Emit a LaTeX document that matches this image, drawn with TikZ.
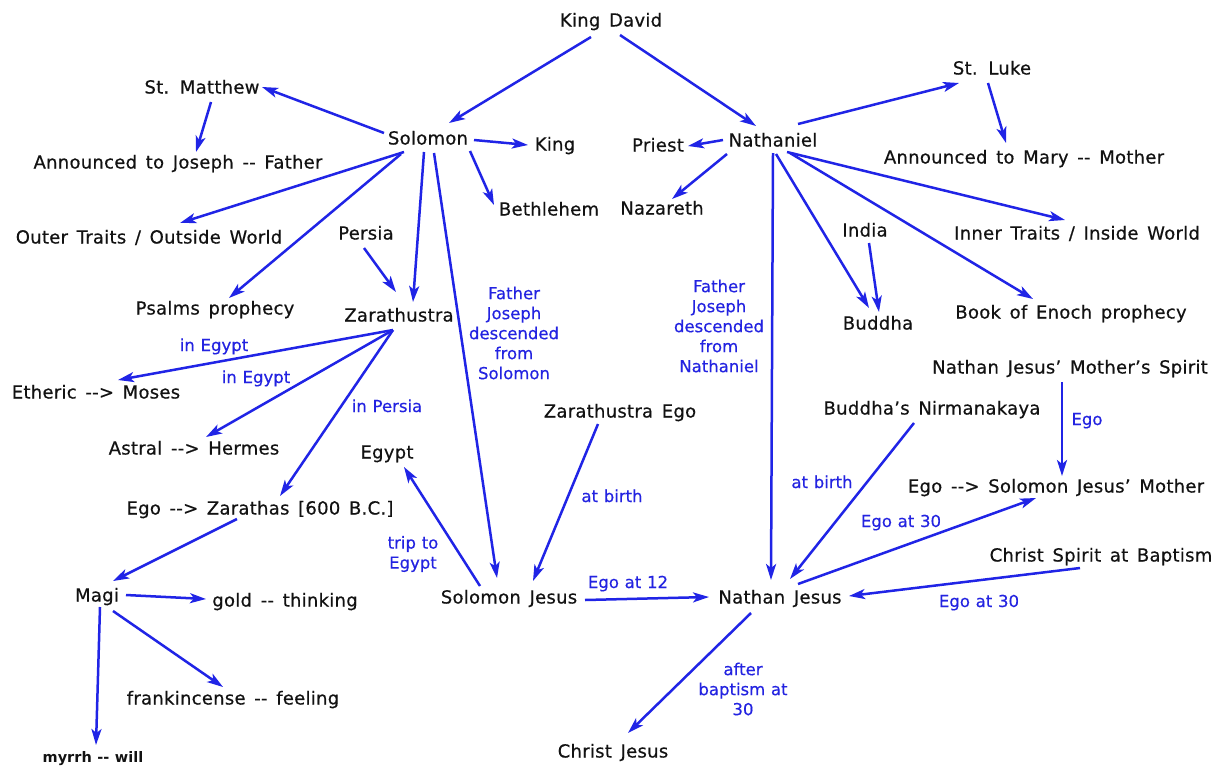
\documentclass[tikz,border=0pt]{standalone}
\usepackage{fontspec}
\newfontfamily\vf{DejaVu Sans}[WordSpace=1.45, LetterSpace=1.5, FakeBold=0.5]
\newfontfamily\vfl{DejaVu Sans}[WordSpace=1.1, FakeBold=0.4]
\newfontfamily\vfb{DejaVu Sans Bold}[WordSpace=1.1]
\usetikzlibrary{arrows.meta}
\definecolor{eb}{RGB}{32,36,230}
\definecolor{lb}{RGB}{35,35,225}
\definecolor{tx}{RGB}{18,18,18}
\tikzset{
  txt/.style={font=\vf\fontsize{18}{20}\selectfont, text=tx, inner sep=0pt, text height=13pt, text depth=0pt},
  lbl/.style={font=\vfl\fontsize{16.5}{20}\selectfont, text=lb, inner sep=0pt, text height=12pt, text depth=0pt},
  mlbl/.style={font=\vfl\fontsize{16.5}{20}\selectfont, text=lb, inner sep=0pt, align=center},
  arr/.style={draw=eb, line width=2.5pt, -{Stealth[length=16pt,width=10pt,inset=4pt]}},
}
\begin{document}
\begin{tikzpicture}[x=1pt,y=-1pt]
\useasboundingbox (0,0) rectangle (1225,766);
\fill[white] (0,0) rectangle (1225,766);
% nodes
\node[txt] (kd) at (611,20) {King David};
\node[txt] (sol) at (428,138) {Solomon};
\node[txt] (nath) at (773,140) {Nathaniel};
\node[txt] (stm) at (202,87) {St. Matthew};
\node[txt] (luke) at (992,68) {St. Luke};
\node[txt] (king) at (555,144) {King};
\node[txt] (priest) at (658,145) {Priest};
\node[txt] (beth) at (549,209) {Bethlehem};
\node[txt] (naz) at (662,208) {Nazareth};
\node[txt] (aj) at (178,162) {Announced to Joseph -- Father};
\node[txt] (am) at (1024,157) {Announced to Mary -- Mother};
\node[txt] (outer) at (149,237) {Outer Traits / Outside World};
\node[txt] (persia) at (366,233) {Persia};
\node[txt] (zara) at (399,315) {Zarathustra};
\node[txt] (psalms) at (215,308) {Psalms prophecy};
\node[txt] (india) at (865,230) {India};
\node[txt] (buddha) at (878,323) {Buddha};
\node[txt] (inner) at (1077,233) {Inner Traits / Inside World};
\node[txt] (enoch) at (1071,312) {Book of Enoch prophecy};
\node[txt] (moses) at (96,392) {Etheric --> Moses};
\node[txt] (hermes) at (194,448) {Astral --> Hermes};
\node[txt] (egypt) at (387,452) {Egypt};
\node[txt] (ez) at (260,508) {Ego --> Zarathas [600 B.C.]};
\node[txt] (ze) at (620,411) {Zarathustra Ego};
\node[txt] (bn) at (932,408) {Buddha’s Nirmanakaya};
\node[txt] (njms) at (1070,367) {Nathan Jesus’ Mother’s Spirit};
\node[txt] (esm) at (1056,486) {Ego --> Solomon Jesus’ Mother};
\node[txt] (csb) at (1101,555) {Christ Spirit at Baptism};
\node[txt] (magi) at (97,595) {Magi};
\node[txt] (gold) at (285,600) {gold -- thinking};
\node[txt] (sj) at (509,597) {Solomon Jesus};
\node[txt] (nj) at (780,597) {Nathan Jesus};
\node[txt] (frank) at (233,698) {frankincense -- feeling};
\node[txt, font=\vfb\fontsize{14.5}{16}\selectfont] (myrrh) at (93,756) {myrrh -- will};
\node[txt] (cj) at (613,751) {Christ Jesus};
% labels
\node[mlbl] (l1) at (514,333) {Father\\Joseph\\descended\\from\\Solomon};
\node[mlbl] (l2) at (719,326) {Father\\Joseph\\descended\\from\\Nathaniel};
\node[lbl] (l3) at (214,345) {in Egypt};
\node[lbl] (l4) at (256,377) {in Egypt};
\node[lbl] (l5) at (387,406) {in Persia};
\node[mlbl] (l6) at (413,554) {trip to\\Egypt};
\node[lbl] (l7) at (612,496) {at birth};
\node[lbl] (l8) at (822,482) {at birth};
\node[lbl] (l9) at (901,521) {Ego at 30};
\node[lbl] (l10) at (628,582) {Ego at 12};
\node[lbl] (l11) at (979,601) {Ego at 30};
\node[lbl] (l12) at (1087,419) {Ego};
\node[mlbl] (l13) at (743,689) {after\\baptism at\\30};
% edges
\draw[arr] ([shift={(-20,17)}]kd.center) -- ([shift={(21,-15)}]sol.center);
\draw[arr] ([shift={(9,15)}]kd.center) -- ([shift={(-17,-14)}]nath.center);
\draw[arr] ([shift={(-44,-5)}]sol.center) -- ([shift={(60,0)}]stm.center);
\draw[arr] ([shift={(9,15)}]stm.center) -- ([shift={(18,-10)}]aj.center);
\draw[arr] ([shift={(46,2)}]sol.center) -- ([shift={(-27,1)}]king.center);
\draw[arr] ([shift={(42,13)}]sol.center) -- ([shift={(-55,-4)}]beth.center);
\draw[arr] ([shift={(-24,14)}]sol.center) -- ([shift={(31,-14)}]outer.center);
\draw[arr] ([shift={(-27,16)}]sol.center) -- ([shift={(14,-10)}]psalms.center);
\draw[arr] ([shift={(-4,14)}]sol.center) -- ([shift={(14,-13)}]zara.center);
\draw[arr] ([shift={(6,15)}]sol.center) -- ([shift={(-12,-19)}]sj.center);
\draw[arr] ([shift={(-2,15)}]persia.center) -- ([shift={(-3,-23)}]zara.center);
\draw[arr] ([shift={(-50,0)}]nath.center) -- ([shift={(30,1)}]priest.center);
\draw[arr] ([shift={(-46,14)}]nath.center) -- ([shift={(10,-9)}]naz.center);
\draw[arr] ([shift={(25,-16)}]nath.center) -- ([shift={(-33,15)}]luke.center);
\draw[arr] ([shift={(-4,15)}]luke.center) -- ([shift={(-18,-14)}]am.center);
\draw[arr] ([shift={(14,12)}]nath.center) -- ([shift={(-12,-13)}]inner.center);
\draw[arr] ([shift={(17,13)}]nath.center) -- ([shift={(-38,-13)}]enoch.center);
\draw[arr] ([shift={(3,14)}]nath.center) -- ([shift={(-9,-15)}]buddha.center);
\draw[arr] ([shift={(0,13)}]nath.center) -- ([shift={(-9,-17)}]nj.center);
\draw[arr] ([shift={(4,13)}]india.center) -- ([shift={(1,-11)}]buddha.center);
\draw[arr] ([shift={(-6,15)}]zara.center) -- ([shift={(22,-12)}]moses.center);
\draw[arr] ([shift={(-6,15)}]zara.center) -- ([shift={(12,-11)}]hermes.center);
\draw[arr] ([shift={(-6,15)}]zara.center) -- ([shift={(20,-12)}]ez.center);
\draw[arr] ([shift={(-23,11)}]ez.center) -- ([shift={(16,-14)}]magi.center);
\draw[arr] ([shift={(29,0)}]magi.center) -- ([shift={(-79,-1)}]gold.center);
\draw[arr] ([shift={(16,16)}]magi.center) -- ([shift={(-10,-11)}]frank.center);
\draw[arr] ([shift={(3,12)}]magi.center) -- ([shift={(3,-11)}]myrrh.center);
\draw[arr] ([shift={(-29,-11)}]sj.center) -- ([shift={(17,15)}]egypt.center);
\draw[arr] ([shift={(-22,13)}]ze.center) -- ([shift={(24,-16)}]sj.center);
\draw[arr] ([shift={(76,3)}]sj.center) -- ([shift={(-71,0)}]nj.center);
\draw[arr] ([shift={(-18,15)}]bn.center) -- ([shift={(10,-18)}]nj.center);
\draw[arr] ([shift={(18,-13)}]nj.center) -- ([shift={(-20,12)}]esm.center);
\draw[arr] ([shift={(-21,13)}]csb.center) -- ([shift={(69,-1)}]nj.center);
\draw[arr] ([shift={(-8,15)}]njms.center) -- ([shift={(6,-10)}]esm.center);
\draw[arr] ([shift={(-29,16)}]nj.center) -- ([shift={(15,-18)}]cj.center);
\end{tikzpicture}
\end{document}
